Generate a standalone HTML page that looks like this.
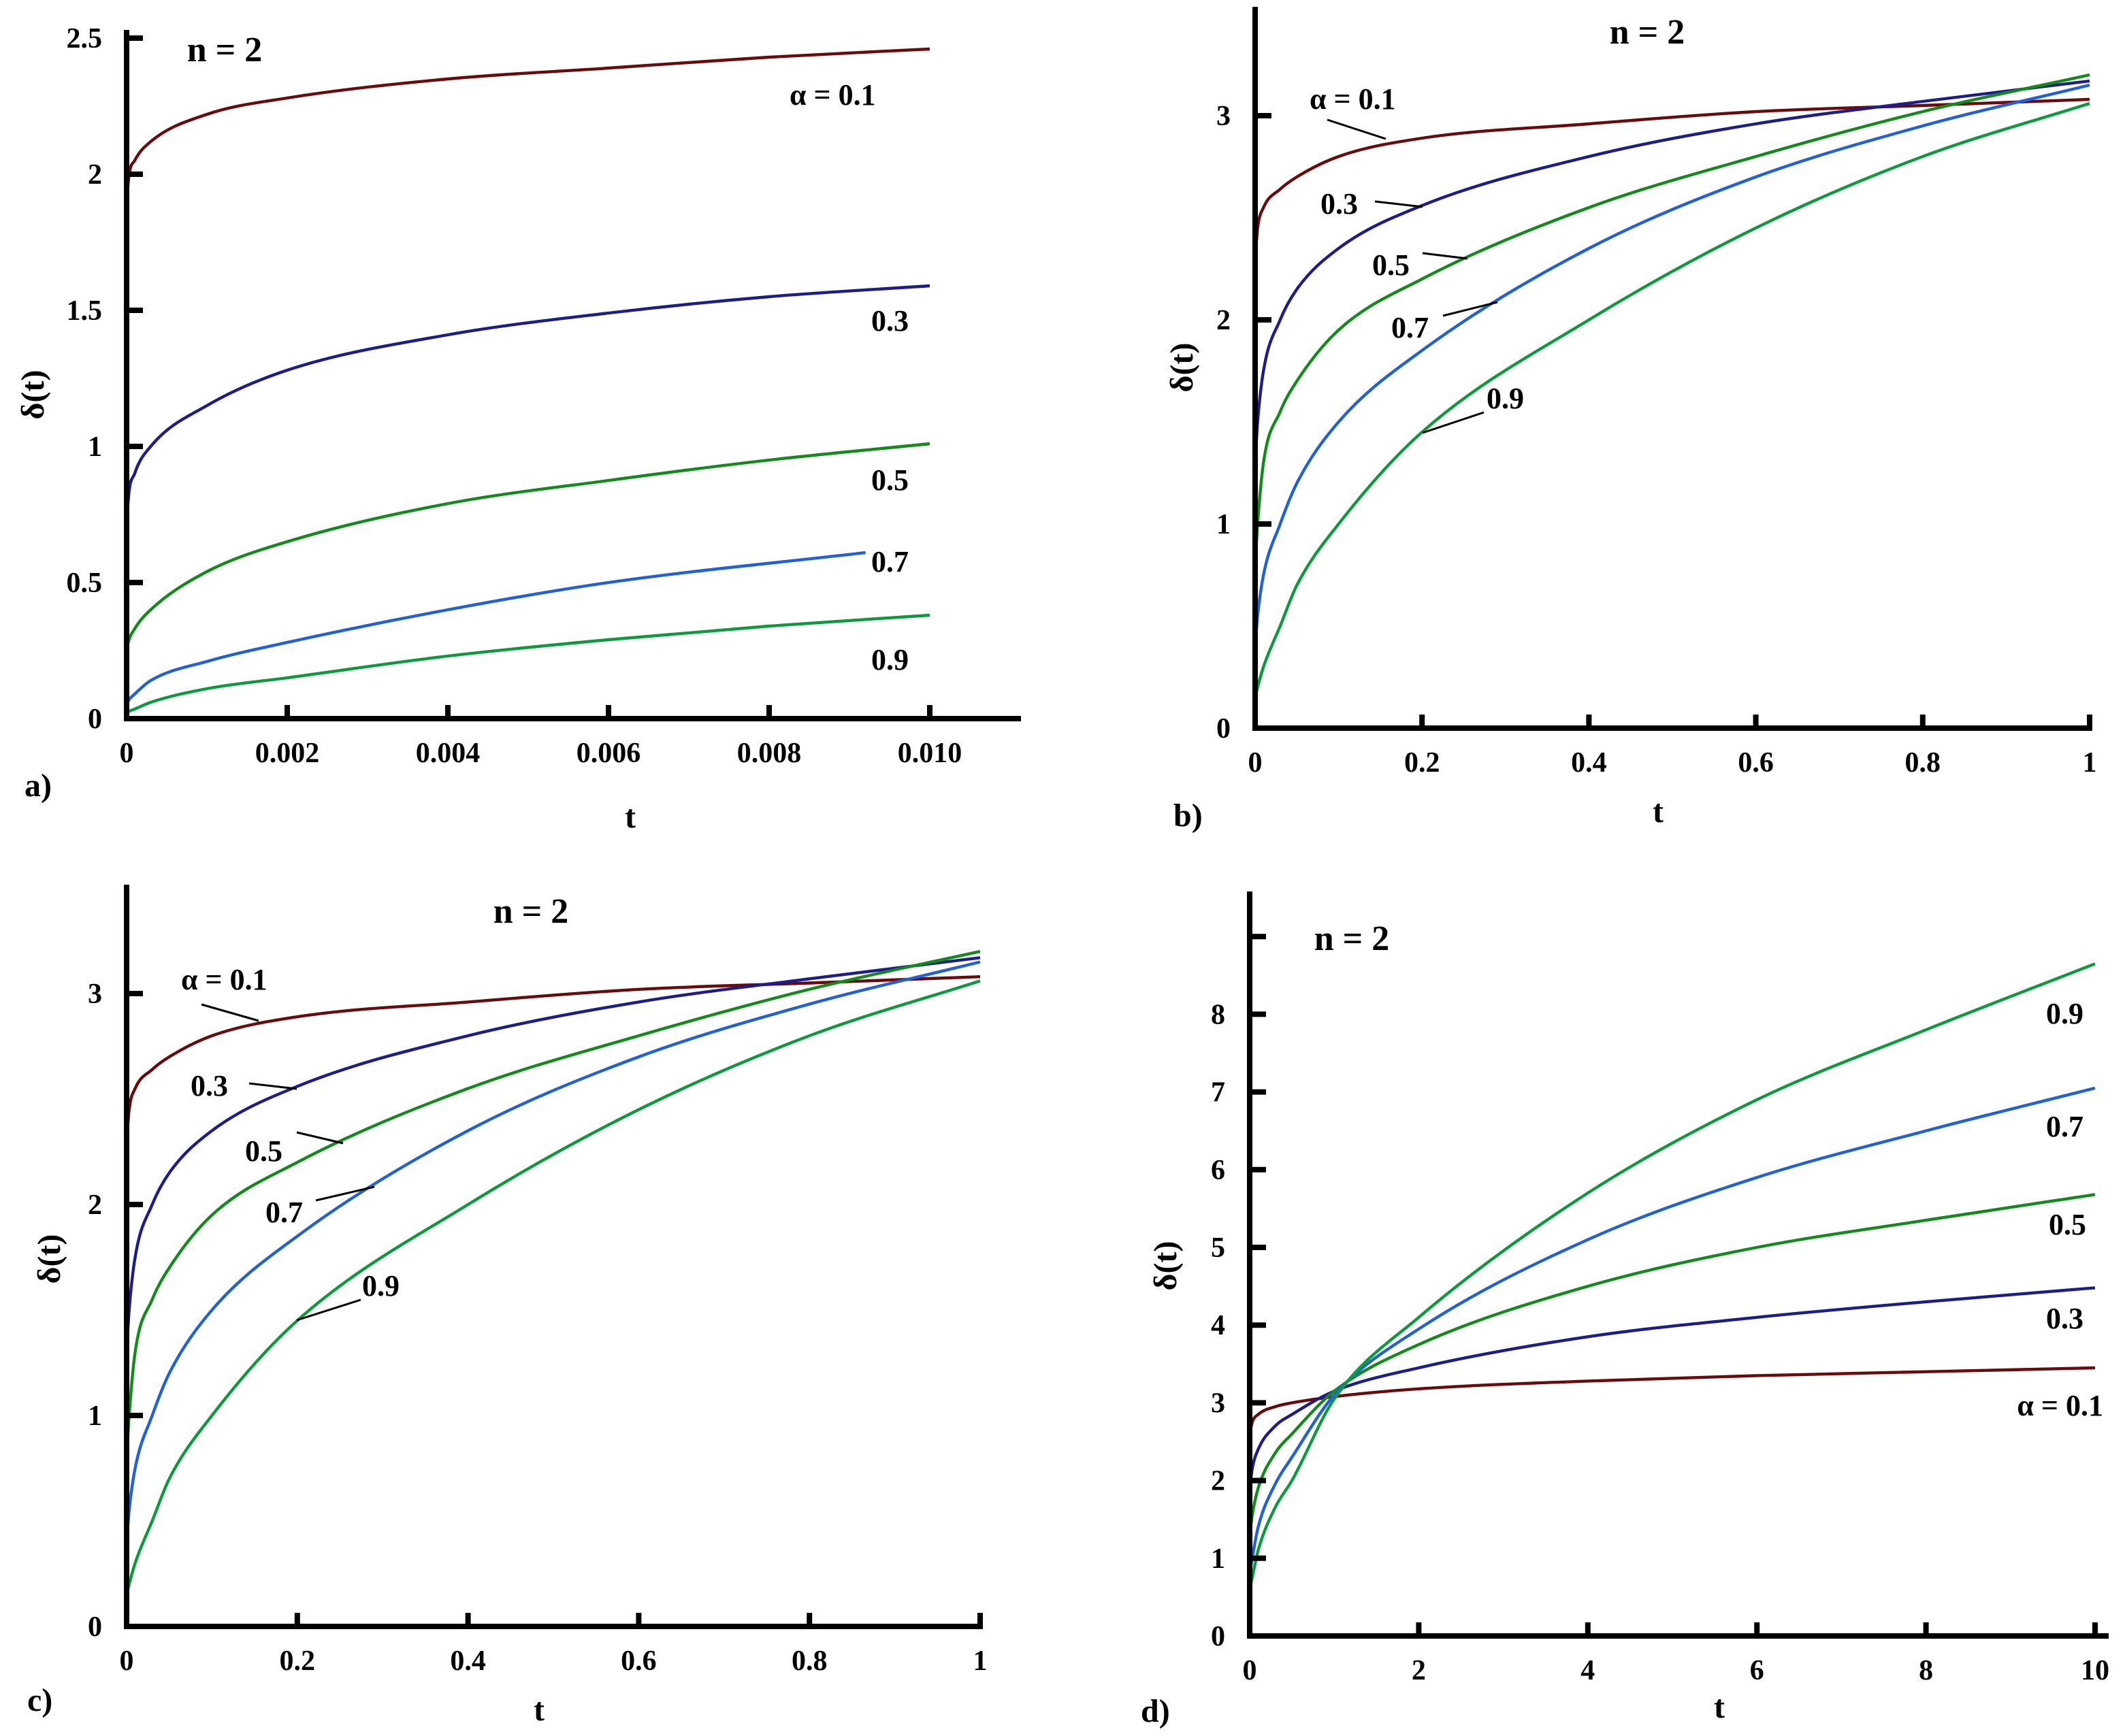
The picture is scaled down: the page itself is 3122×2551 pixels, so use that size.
<!DOCTYPE html>
<html><head><meta charset="utf-8"><style>
html,body{margin:0;padding:0;background:#fff;}
svg{display:block;}
text{font-family:"Liberation Serif",serif;font-weight:bold;fill:#000;}
</style></head><body>
<svg id="fig" width="3122" height="2551" viewBox="0 0 1561 1275.5" xmlns="http://www.w3.org/2000/svg"></svg>
<script>
const alphas = ["0.1","0.3","0.5","0.7","0.9"];
const colors = ["#6a0a0a","#1c1c8e","#138a1c","#2060dd","#0c9a3c"];
// panel a
const tA = [0,0.00002,0.0001,0.0003,0.001,0.002,0.004,0.006,0.008,0.010];
const tA7 = [0,0.00002,0.0001,0.0003,0.001,0.002,0.004,0.006,0.0092];
const aV01 = [1.85,1.97,2.05,2.12,2.22,2.28,2.35,2.39,2.43,2.46];
const aV03 = [0.68,0.8,0.9,1.0,1.15,1.28,1.41,1.49,1.55,1.59];
const aV05 = [0.25,0.28,0.33,0.4,0.54,0.65,0.79,0.875,0.95,1.01];
const aV07 = [0.05,0.065,0.09,0.14,0.21,0.28,0.40,0.50,0.61];
const aV09 = [0.02,0.025,0.035,0.06,0.11,0.15,0.23,0.29,0.34,0.38];
// panels b and c
const tB = [0,0.003,0.01,0.03,0.05,0.1,0.2,0.4,0.6,0.8,1];
const bV01 = [2.3,2.45,2.55,2.64,2.7,2.8,2.89,2.96,3.02,3.05,3.08];
const bV03 = [1.3,1.5,1.75,2.0,2.15,2.35,2.56,2.8,2.96,3.07,3.17];
const bV05 = [0.8,1.0,1.3,1.55,1.7,1.95,2.2,2.55,2.8,3.02,3.2];
const bV07 = [0.4,0.55,0.75,1.0,1.2,1.5,1.85,2.35,2.7,2.95,3.15];
const bV09 = [0.15,0.2,0.3,0.5,0.7,1.0,1.45,2.0,2.45,2.8,3.06];
// panel d
const tD = [0,0.03,0.1,0.3,0.5,1,2,4,6,8,10];
const dV01 = [2.6,2.75,2.85,2.95,3.0,3.08,3.18,3.28,3.35,3.4,3.45];
const dV03 = [1.9,2.15,2.4,2.7,2.85,3.15,3.45,3.85,4.1,4.3,4.48];
const dV05 = [1.3,1.55,1.9,2.35,2.6,3.15,3.75,4.5,5.0,5.35,5.68];
const dV07 = [0.8,1.0,1.4,1.95,2.3,3.1,3.95,5.1,5.9,6.5,7.05];
const dV09 = [0.6,0.75,1.1,1.65,2.0,3.05,4.1,5.7,6.9,7.8,8.65];

const aXT = [0,0.002,0.004,0.006,0.008,0.010];
const aXL = ["0","0.002","0.004","0.006","0.008","0.010"];
const aYT = [0,0.5,1,1.5,2,2.5];
const aYL = ["0","0.5","1","1.5","2","2.5"];
const bXT = [0,0.2,0.4,0.6,0.8,1];
const bXL = ["0","0.2","0.4","0.6","0.8","1"];
const bYT = [0,1,2,3];
const bYL = ["0","1","2","3"];
const dXT = [0,2,4,6,8,10];
const dXL = ["0","2","4","6","8","10"];
const dYT = [0,1,2,3,4,5,6,7,8,9];
const dYL = ["0","1","2","3","4","5","6","7","8",""];

const svg = document.getElementById('fig');
const NS = "http://www.w3.org/2000/svg";
function mk(tag, attrs, parent){
  const e = document.createElementNS(NS, tag);
  for (const k in attrs) e.setAttribute(k, attrs[k]);
  (parent||svg).appendChild(e); return e;
}
function txt(x,y,s,size,anchor,parent){
  const e = mk('text',{x:x,y:y,'font-size':size,'text-anchor':anchor||'middle'},parent);
  e.textContent = s; return e;
}
// monotone cubic (Fritsch-Carlson) in pixel space
function monoPath(pts){
  const n=pts.length, xs=pts.map(p=>p[0]), ys=pts.map(p=>p[1]);
  const d=[],m=new Array(n);
  for(let i=0;i<n-1;i++) d.push((ys[i+1]-ys[i])/(xs[i+1]-xs[i]));
  m[0]=d[0]; m[n-1]=d[n-2];
  for(let i=1;i<n-1;i++) m[i]=(d[i-1]*d[i]<=0)?0:(d[i-1]+d[i])/2;
  for(let i=0;i<n-1;i++){
    if(d[i]===0){m[i]=0;m[i+1]=0;continue;}
    const a=m[i]/d[i],b=m[i+1]/d[i],s=a*a+b*b;
    if(s>9){const t=3/Math.sqrt(s);m[i]=t*a*d[i];m[i+1]=t*b*d[i];}
  }
  let p="M"+xs[0]+","+ys[0];
  for(let i=0;i<n-1;i++){
    const h=(xs[i+1]-xs[i])/3;
    p+=" C"+(xs[i]+h)+","+(ys[i]+m[i]*h)+" "+(xs[i+1]-h)+","+(ys[i+1]-m[i+1]*h)+" "+xs[i+1]+","+ys[i+1];
  }
  return p;
}
function panel(cfg){
  const g = mk('g',{});
  
  
  const X = v => cfg.x0 + v*cfg.sx, Y = v => cfg.y0 - v*cfg.sy;
  cfg.series.forEach((s,i)=>{
    const pts = s.t.map((t,j)=>[X(t),Y(s.v[j])]);
    const p = mk('path',{d:monoPath(pts),fill:'none',stroke:colors[i],'stroke-width':2.2},g);
    
    
  });
  const ax = mk('path',{d:`M${cfg.x0},${cfg.top} L${cfg.x0},${cfg.y0} L${cfg.right},${cfg.y0}`,fill:'none',stroke:'#000','stroke-width':4},g);
  
  
  cfg.xt.forEach((v,i)=>{
    mk('line',{x1:X(v),y1:cfg.y0,x2:X(v),y2:cfg.y0-10,stroke:'#000','stroke-width':4},g);
    const t = txt(X(v),cfg.y0+32,cfg.xl[i],21,'middle',g);
    
    
  });
  cfg.yt.forEach((v,i)=>{
    mk('line',{x1:cfg.x0,y1:Y(v),x2:cfg.x0+12,y2:Y(v),stroke:'#000','stroke-width':4},g);
    const t = txt(cfg.x0-18,Y(v)+7,cfg.yl[i],21,'end',g);
    
    
  });
  const xt = txt(cfg.xtitle[0],cfg.xtitle[1],'t',24,'middle',g);
  
  
  const yt = mk('text',{x:0,y:0,'font-size':24,'text-anchor':'middle',transform:`translate(${cfg.ytitle[0]},${cfg.ytitle[1]}) rotate(-90)`,'font-weight':'normal'},g);
  yt.textContent='δ(t)';
  
  
  const nt = txt(cfg.ntitle[0],cfg.ntitle[1],'n = 2',26,'middle',g);
  
  
  const pl = txt(cfg.plabel[0],cfg.plabel[1],cfg.plabel[2],24,'start',g);
  
  
  cfg.labels.forEach((l,i)=>{
    const t = txt(l[0],l[1],i===0?'α = 0.1':alphas[i],22,l[2]||'start',g);
    
    
    if (l.length>3){
      mk('line',{x1:l[3],y1:l[4],x2:l[5],y2:l[6],stroke:'#000','stroke-width':1.5},g);
    }
  });
}
panel({name:'panel-a',x0:93,y0:528,sx:118/0.002,sy:200,top:22,right:750,
  series:[{t:tA,v:aV01},{t:tA,v:aV03},{t:tA,v:aV05},{t:tA7,v:aV07},{t:tA,v:aV09}],
  xt:aXT,xl:aXL,yt:aYT,yl:aYL,xtitle:[463,608],ytitle:[32,290],ntitle:[165,45],plabel:[18,585,'a)'],
  labels:[[580,77],[640,243],[640,360],[640,420],[640,492]]});
const bLabels = [[962,80,'start',975,88,1018,102],[970,157,'start',1010,148,1045,152],[1008,202,'start',1045,186,1078,190],[1022,248,'start',1060,232,1100,222],[1092,300,'start',1090,303,1045,318]];
panel({name:'panel-b',x0:922,y0:535,sx:613,sy:150,top:5,right:1537,
  series:[{t:tB,v:bV01},{t:tB,v:bV03},{t:tB,v:bV05},{t:tB,v:bV07},{t:tB,v:bV09}],
  xt:bXT,xl:bXL,yt:bYT,yl:bYL,xtitle:[1218,604],ytitle:[876,270],ntitle:[1210,32],plabel:[862,607,'b)'],
  labels:bLabels});
panel({name:'panel-c',x0:93,y0:1195,sx:627,sy:155,top:650,right:722,
  series:[{t:tB,v:bV01},{t:tB,v:bV03},{t:tB,v:bV05},{t:tB,v:bV07},{t:tB,v:bV09}],
  xt:bXT,xl:bXL,yt:bYT,yl:bYL,xtitle:[396,1264],ytitle:[44,925],ntitle:[390,678],plabel:[20,1257,'c)'],
  labels:[[133,727,'start',148,738,190,750],[140,805,'start',183,796,218,800],[180,853,'start',218,832,252,840],[195,898,'start',232,882,275,872],[266,952,'start',265,955,218,970]]});
panel({name:'panel-d',x0:918,y0:1202,sx:62.1,sy:57.1,top:655,right:1549,
  series:[{t:tD,v:dV01},{t:tD,v:dV03},{t:tD,v:dV05},{t:tD,v:dV07},{t:tD,v:dV09}],
  xt:dXT,xl:dXL,yt:dYT,yl:dYL,xtitle:[1263,1262],ytitle:[864,930],ntitle:[993,698],plabel:[838,1265,'d)'],
  labels:[[1545,1040,'end'],[1503,976],[1505,907],[1503,835],[1503,752]]});
</script>
</body></html>
